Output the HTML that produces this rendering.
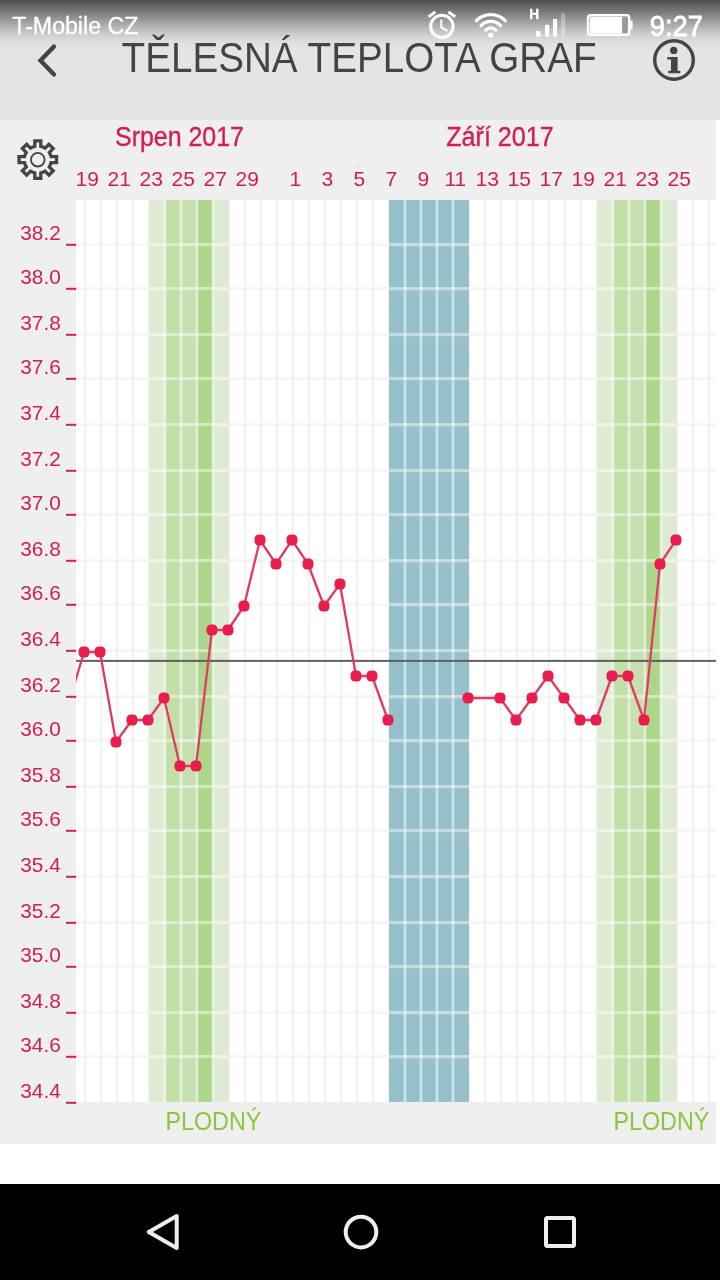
<!DOCTYPE html>
<html lang="cs"><head><meta charset="utf-8"><title>Tělesná teplota graf</title>
<style>html,body{margin:0;padding:0;background:#fff;}body{width:720px;height:1280px;overflow:hidden;position:relative;font-family:"Liberation Sans",sans-serif;}svg{position:absolute;left:0;top:0;display:block;will-change:transform}text{font-family:"Liberation Sans",sans-serif;}</style></head><body>
<svg width="720" height="1280" viewBox="0 0 720 1280">
<defs><linearGradient id="sb" x1="0" y1="0" x2="0" y2="1"><stop offset="0" stop-color="#4c4c4c"/><stop offset="0.36" stop-color="#8f8f8f"/><stop offset="0.58" stop-color="#b8b8b8"/><stop offset="0.73" stop-color="#cfcfcf"/><stop offset="0.83" stop-color="#dadada"/><stop offset="0.94" stop-color="#e2e2e2"/><stop offset="1" stop-color="#e4e4e4"/></linearGradient>
<clipPath id="cc"><rect x="76" y="200" width="640" height="902"/></clipPath></defs>
<rect x="0" y="0" width="720" height="1280" fill="#ffffff"/>
<rect x="0" y="0" width="720" height="120" fill="#e4e4e4"/>
<rect x="0" y="0" width="720" height="48" fill="url(#sb)"/>
<rect x="0" y="120" width="716" height="1024" fill="#efefef"/>
<rect x="76" y="200" width="640" height="902" fill="#ffffff"/>
<g fill="#eeeeee" fill-opacity="0.6">
<rect x="83.5" y="200" width="3" height="902"/>
<rect x="99.5" y="200" width="3" height="902"/>
<rect x="115.5" y="200" width="3" height="902"/>
<rect x="131.5" y="200" width="3" height="902"/>
<rect x="147.5" y="200" width="3" height="902"/>
<rect x="227.5" y="200" width="3" height="902"/>
<rect x="243.5" y="200" width="3" height="902"/>
<rect x="259.5" y="200" width="3" height="902"/>
<rect x="275.5" y="200" width="3" height="902"/>
<rect x="291.5" y="200" width="3" height="902"/>
<rect x="307.5" y="200" width="3" height="902"/>
<rect x="323.5" y="200" width="3" height="902"/>
<rect x="339.5" y="200" width="3" height="902"/>
<rect x="355.5" y="200" width="3" height="902"/>
<rect x="371.5" y="200" width="3" height="902"/>
<rect x="387.5" y="200" width="3" height="902"/>
<rect x="467.5" y="200" width="3" height="902"/>
<rect x="483.5" y="200" width="3" height="902"/>
<rect x="499.5" y="200" width="3" height="902"/>
<rect x="515.5" y="200" width="3" height="902"/>
<rect x="531.5" y="200" width="3" height="902"/>
<rect x="547.5" y="200" width="3" height="902"/>
<rect x="563.5" y="200" width="3" height="902"/>
<rect x="579.5" y="200" width="3" height="902"/>
<rect x="595.5" y="200" width="3" height="902"/>
<rect x="675.5" y="200" width="3" height="902"/>
<rect x="691.5" y="200" width="3" height="902"/>
<rect x="707.5" y="200" width="3" height="902"/>
<rect x="76" y="243.0" width="73" height="3.2" fill-opacity="0.5"/>
<rect x="229" y="243.0" width="160" height="3.2" fill-opacity="0.5"/>
<rect x="469" y="243.0" width="128" height="3.2" fill-opacity="0.5"/>
<rect x="677" y="243.0" width="39" height="3.2" fill-opacity="0.5"/>
<rect x="76" y="287.0" width="73" height="3.2" fill-opacity="0.5"/>
<rect x="229" y="287.0" width="160" height="3.2" fill-opacity="0.5"/>
<rect x="469" y="287.0" width="128" height="3.2" fill-opacity="0.5"/>
<rect x="677" y="287.0" width="39" height="3.2" fill-opacity="0.5"/>
<rect x="76" y="333.0" width="73" height="3.2" fill-opacity="0.5"/>
<rect x="229" y="333.0" width="160" height="3.2" fill-opacity="0.5"/>
<rect x="469" y="333.0" width="128" height="3.2" fill-opacity="0.5"/>
<rect x="677" y="333.0" width="39" height="3.2" fill-opacity="0.5"/>
<rect x="76" y="377.0" width="73" height="3.2" fill-opacity="0.5"/>
<rect x="229" y="377.0" width="160" height="3.2" fill-opacity="0.5"/>
<rect x="469" y="377.0" width="128" height="3.2" fill-opacity="0.5"/>
<rect x="677" y="377.0" width="39" height="3.2" fill-opacity="0.5"/>
<rect x="76" y="423.0" width="73" height="3.2" fill-opacity="0.5"/>
<rect x="229" y="423.0" width="160" height="3.2" fill-opacity="0.5"/>
<rect x="469" y="423.0" width="128" height="3.2" fill-opacity="0.5"/>
<rect x="677" y="423.0" width="39" height="3.2" fill-opacity="0.5"/>
<rect x="76" y="469.0" width="73" height="3.2" fill-opacity="0.5"/>
<rect x="229" y="469.0" width="160" height="3.2" fill-opacity="0.5"/>
<rect x="469" y="469.0" width="128" height="3.2" fill-opacity="0.5"/>
<rect x="677" y="469.0" width="39" height="3.2" fill-opacity="0.5"/>
<rect x="76" y="513.0" width="73" height="3.2" fill-opacity="0.5"/>
<rect x="229" y="513.0" width="160" height="3.2" fill-opacity="0.5"/>
<rect x="469" y="513.0" width="128" height="3.2" fill-opacity="0.5"/>
<rect x="677" y="513.0" width="39" height="3.2" fill-opacity="0.5"/>
<rect x="76" y="559.0" width="73" height="3.2" fill-opacity="0.5"/>
<rect x="229" y="559.0" width="160" height="3.2" fill-opacity="0.5"/>
<rect x="469" y="559.0" width="128" height="3.2" fill-opacity="0.5"/>
<rect x="677" y="559.0" width="39" height="3.2" fill-opacity="0.5"/>
<rect x="76" y="603.0" width="73" height="3.2" fill-opacity="0.5"/>
<rect x="229" y="603.0" width="160" height="3.2" fill-opacity="0.5"/>
<rect x="469" y="603.0" width="128" height="3.2" fill-opacity="0.5"/>
<rect x="677" y="603.0" width="39" height="3.2" fill-opacity="0.5"/>
<rect x="76" y="649.0" width="73" height="3.2" fill-opacity="0.5"/>
<rect x="229" y="649.0" width="160" height="3.2" fill-opacity="0.5"/>
<rect x="469" y="649.0" width="128" height="3.2" fill-opacity="0.5"/>
<rect x="677" y="649.0" width="39" height="3.2" fill-opacity="0.5"/>
<rect x="76" y="695.0" width="73" height="3.2" fill-opacity="0.5"/>
<rect x="229" y="695.0" width="160" height="3.2" fill-opacity="0.5"/>
<rect x="469" y="695.0" width="128" height="3.2" fill-opacity="0.5"/>
<rect x="677" y="695.0" width="39" height="3.2" fill-opacity="0.5"/>
<rect x="76" y="739.0" width="73" height="3.2" fill-opacity="0.5"/>
<rect x="229" y="739.0" width="160" height="3.2" fill-opacity="0.5"/>
<rect x="469" y="739.0" width="128" height="3.2" fill-opacity="0.5"/>
<rect x="677" y="739.0" width="39" height="3.2" fill-opacity="0.5"/>
<rect x="76" y="785.0" width="73" height="3.2" fill-opacity="0.5"/>
<rect x="229" y="785.0" width="160" height="3.2" fill-opacity="0.5"/>
<rect x="469" y="785.0" width="128" height="3.2" fill-opacity="0.5"/>
<rect x="677" y="785.0" width="39" height="3.2" fill-opacity="0.5"/>
<rect x="76" y="829.0" width="73" height="3.2" fill-opacity="0.5"/>
<rect x="229" y="829.0" width="160" height="3.2" fill-opacity="0.5"/>
<rect x="469" y="829.0" width="128" height="3.2" fill-opacity="0.5"/>
<rect x="677" y="829.0" width="39" height="3.2" fill-opacity="0.5"/>
<rect x="76" y="875.0" width="73" height="3.2" fill-opacity="0.5"/>
<rect x="229" y="875.0" width="160" height="3.2" fill-opacity="0.5"/>
<rect x="469" y="875.0" width="128" height="3.2" fill-opacity="0.5"/>
<rect x="677" y="875.0" width="39" height="3.2" fill-opacity="0.5"/>
<rect x="76" y="921.0" width="73" height="3.2" fill-opacity="0.5"/>
<rect x="229" y="921.0" width="160" height="3.2" fill-opacity="0.5"/>
<rect x="469" y="921.0" width="128" height="3.2" fill-opacity="0.5"/>
<rect x="677" y="921.0" width="39" height="3.2" fill-opacity="0.5"/>
<rect x="76" y="965.0" width="73" height="3.2" fill-opacity="0.5"/>
<rect x="229" y="965.0" width="160" height="3.2" fill-opacity="0.5"/>
<rect x="469" y="965.0" width="128" height="3.2" fill-opacity="0.5"/>
<rect x="677" y="965.0" width="39" height="3.2" fill-opacity="0.5"/>
<rect x="76" y="1011.0" width="73" height="3.2" fill-opacity="0.5"/>
<rect x="229" y="1011.0" width="160" height="3.2" fill-opacity="0.5"/>
<rect x="469" y="1011.0" width="128" height="3.2" fill-opacity="0.5"/>
<rect x="677" y="1011.0" width="39" height="3.2" fill-opacity="0.5"/>
<rect x="76" y="1055.0" width="73" height="3.2" fill-opacity="0.5"/>
<rect x="229" y="1055.0" width="160" height="3.2" fill-opacity="0.5"/>
<rect x="469" y="1055.0" width="128" height="3.2" fill-opacity="0.5"/>
<rect x="677" y="1055.0" width="39" height="3.2" fill-opacity="0.5"/>
</g>
<rect x="149" y="200" width="16" height="902" fill="#dcebd2"/>
<rect x="165" y="200" width="16" height="902" fill="#c1dfa6"/>
<rect x="181" y="200" width="16" height="902" fill="#c6e0b0"/>
<rect x="197" y="200" width="16" height="902" fill="#aed68b"/>
<rect x="213" y="200" width="16" height="902" fill="#dcebd2"/>
<rect x="597" y="200" width="16" height="902" fill="#dcebd2"/>
<rect x="613" y="200" width="16" height="902" fill="#c1dfa6"/>
<rect x="629" y="200" width="16" height="902" fill="#c6e0b0"/>
<rect x="645" y="200" width="16" height="902" fill="#aed68b"/>
<rect x="661" y="200" width="16" height="902" fill="#dcebd2"/>
<rect x="389" y="200" width="16" height="902" fill="#96c0cc"/>
<rect x="405" y="200" width="16" height="902" fill="#96c0cc"/>
<rect x="421" y="200" width="16" height="902" fill="#96c0cc"/>
<rect x="437" y="200" width="16" height="902" fill="#96c0cc"/>
<rect x="453" y="200" width="16" height="902" fill="#96c0cc"/>
<g fill="#ffffff">
<rect x="163.6" y="200" width="2.8" height="902" fill-opacity="0.52"/>
<rect x="179.6" y="200" width="2.8" height="902" fill-opacity="0.52"/>
<rect x="195.6" y="200" width="2.8" height="902" fill-opacity="0.52"/>
<rect x="211.6" y="200" width="2.8" height="902" fill-opacity="0.52"/>
<rect x="149" y="243.0" width="80" height="3.2" fill-opacity="0.45"/>
<rect x="149" y="287.0" width="80" height="3.2" fill-opacity="0.45"/>
<rect x="149" y="333.0" width="80" height="3.2" fill-opacity="0.45"/>
<rect x="149" y="377.0" width="80" height="3.2" fill-opacity="0.45"/>
<rect x="149" y="423.0" width="80" height="3.2" fill-opacity="0.45"/>
<rect x="149" y="469.0" width="80" height="3.2" fill-opacity="0.45"/>
<rect x="149" y="513.0" width="80" height="3.2" fill-opacity="0.45"/>
<rect x="149" y="559.0" width="80" height="3.2" fill-opacity="0.45"/>
<rect x="149" y="603.0" width="80" height="3.2" fill-opacity="0.45"/>
<rect x="149" y="649.0" width="80" height="3.2" fill-opacity="0.45"/>
<rect x="149" y="695.0" width="80" height="3.2" fill-opacity="0.45"/>
<rect x="149" y="739.0" width="80" height="3.2" fill-opacity="0.45"/>
<rect x="149" y="785.0" width="80" height="3.2" fill-opacity="0.45"/>
<rect x="149" y="829.0" width="80" height="3.2" fill-opacity="0.45"/>
<rect x="149" y="875.0" width="80" height="3.2" fill-opacity="0.45"/>
<rect x="149" y="921.0" width="80" height="3.2" fill-opacity="0.45"/>
<rect x="149" y="965.0" width="80" height="3.2" fill-opacity="0.45"/>
<rect x="149" y="1011.0" width="80" height="3.2" fill-opacity="0.45"/>
<rect x="149" y="1055.0" width="80" height="3.2" fill-opacity="0.45"/>
<rect x="403.6" y="200" width="2.8" height="902" fill-opacity="0.52"/>
<rect x="419.6" y="200" width="2.8" height="902" fill-opacity="0.52"/>
<rect x="435.6" y="200" width="2.8" height="902" fill-opacity="0.52"/>
<rect x="451.6" y="200" width="2.8" height="902" fill-opacity="0.52"/>
<rect x="389" y="243.0" width="80" height="3.2" fill-opacity="0.45"/>
<rect x="389" y="287.0" width="80" height="3.2" fill-opacity="0.45"/>
<rect x="389" y="333.0" width="80" height="3.2" fill-opacity="0.45"/>
<rect x="389" y="377.0" width="80" height="3.2" fill-opacity="0.45"/>
<rect x="389" y="423.0" width="80" height="3.2" fill-opacity="0.45"/>
<rect x="389" y="469.0" width="80" height="3.2" fill-opacity="0.45"/>
<rect x="389" y="513.0" width="80" height="3.2" fill-opacity="0.45"/>
<rect x="389" y="559.0" width="80" height="3.2" fill-opacity="0.45"/>
<rect x="389" y="603.0" width="80" height="3.2" fill-opacity="0.45"/>
<rect x="389" y="649.0" width="80" height="3.2" fill-opacity="0.45"/>
<rect x="389" y="695.0" width="80" height="3.2" fill-opacity="0.45"/>
<rect x="389" y="739.0" width="80" height="3.2" fill-opacity="0.45"/>
<rect x="389" y="785.0" width="80" height="3.2" fill-opacity="0.45"/>
<rect x="389" y="829.0" width="80" height="3.2" fill-opacity="0.45"/>
<rect x="389" y="875.0" width="80" height="3.2" fill-opacity="0.45"/>
<rect x="389" y="921.0" width="80" height="3.2" fill-opacity="0.45"/>
<rect x="389" y="965.0" width="80" height="3.2" fill-opacity="0.45"/>
<rect x="389" y="1011.0" width="80" height="3.2" fill-opacity="0.45"/>
<rect x="389" y="1055.0" width="80" height="3.2" fill-opacity="0.45"/>
<rect x="611.6" y="200" width="2.8" height="902" fill-opacity="0.52"/>
<rect x="627.6" y="200" width="2.8" height="902" fill-opacity="0.52"/>
<rect x="643.6" y="200" width="2.8" height="902" fill-opacity="0.52"/>
<rect x="659.6" y="200" width="2.8" height="902" fill-opacity="0.52"/>
<rect x="597" y="243.0" width="80" height="3.2" fill-opacity="0.45"/>
<rect x="597" y="287.0" width="80" height="3.2" fill-opacity="0.45"/>
<rect x="597" y="333.0" width="80" height="3.2" fill-opacity="0.45"/>
<rect x="597" y="377.0" width="80" height="3.2" fill-opacity="0.45"/>
<rect x="597" y="423.0" width="80" height="3.2" fill-opacity="0.45"/>
<rect x="597" y="469.0" width="80" height="3.2" fill-opacity="0.45"/>
<rect x="597" y="513.0" width="80" height="3.2" fill-opacity="0.45"/>
<rect x="597" y="559.0" width="80" height="3.2" fill-opacity="0.45"/>
<rect x="597" y="603.0" width="80" height="3.2" fill-opacity="0.45"/>
<rect x="597" y="649.0" width="80" height="3.2" fill-opacity="0.45"/>
<rect x="597" y="695.0" width="80" height="3.2" fill-opacity="0.45"/>
<rect x="597" y="739.0" width="80" height="3.2" fill-opacity="0.45"/>
<rect x="597" y="785.0" width="80" height="3.2" fill-opacity="0.45"/>
<rect x="597" y="829.0" width="80" height="3.2" fill-opacity="0.45"/>
<rect x="597" y="875.0" width="80" height="3.2" fill-opacity="0.45"/>
<rect x="597" y="921.0" width="80" height="3.2" fill-opacity="0.45"/>
<rect x="597" y="965.0" width="80" height="3.2" fill-opacity="0.45"/>
<rect x="597" y="1011.0" width="80" height="3.2" fill-opacity="0.45"/>
<rect x="597" y="1055.0" width="80" height="3.2" fill-opacity="0.45"/>
</g>
<rect x="66" y="243.8" width="10" height="2" fill="#d41d4f"/>
<text x="20.3" y="240.4" font-size="20.4" fill="#d41d4f" textLength="40.5" lengthAdjust="spacingAndGlyphs">38.2</text>
<rect x="66" y="287.8" width="10" height="2" fill="#d41d4f"/>
<text x="20.3" y="284.4" font-size="20.4" fill="#d41d4f" textLength="40.5" lengthAdjust="spacingAndGlyphs">38.0</text>
<rect x="66" y="333.8" width="10" height="2" fill="#d41d4f"/>
<text x="20.3" y="330.4" font-size="20.4" fill="#d41d4f" textLength="40.5" lengthAdjust="spacingAndGlyphs">37.8</text>
<rect x="66" y="377.8" width="10" height="2" fill="#d41d4f"/>
<text x="20.3" y="374.4" font-size="20.4" fill="#d41d4f" textLength="40.5" lengthAdjust="spacingAndGlyphs">37.6</text>
<rect x="66" y="423.8" width="10" height="2" fill="#d41d4f"/>
<text x="20.3" y="420.4" font-size="20.4" fill="#d41d4f" textLength="40.5" lengthAdjust="spacingAndGlyphs">37.4</text>
<rect x="66" y="469.8" width="10" height="2" fill="#d41d4f"/>
<text x="20.3" y="466.4" font-size="20.4" fill="#d41d4f" textLength="40.5" lengthAdjust="spacingAndGlyphs">37.2</text>
<rect x="66" y="513.8" width="10" height="2" fill="#d41d4f"/>
<text x="20.3" y="510.4" font-size="20.4" fill="#d41d4f" textLength="40.5" lengthAdjust="spacingAndGlyphs">37.0</text>
<rect x="66" y="559.8" width="10" height="2" fill="#d41d4f"/>
<text x="20.3" y="556.4" font-size="20.4" fill="#d41d4f" textLength="40.5" lengthAdjust="spacingAndGlyphs">36.8</text>
<rect x="66" y="603.8" width="10" height="2" fill="#d41d4f"/>
<text x="20.3" y="600.4" font-size="20.4" fill="#d41d4f" textLength="40.5" lengthAdjust="spacingAndGlyphs">36.6</text>
<rect x="66" y="649.8" width="10" height="2" fill="#d41d4f"/>
<text x="20.3" y="646.4" font-size="20.4" fill="#d41d4f" textLength="40.5" lengthAdjust="spacingAndGlyphs">36.4</text>
<rect x="66" y="695.8" width="10" height="2" fill="#d41d4f"/>
<text x="20.3" y="692.4" font-size="20.4" fill="#d41d4f" textLength="40.5" lengthAdjust="spacingAndGlyphs">36.2</text>
<rect x="66" y="739.8" width="10" height="2" fill="#d41d4f"/>
<text x="20.3" y="736.4" font-size="20.4" fill="#d41d4f" textLength="40.5" lengthAdjust="spacingAndGlyphs">36.0</text>
<rect x="66" y="785.8" width="10" height="2" fill="#d41d4f"/>
<text x="20.3" y="782.4" font-size="20.4" fill="#d41d4f" textLength="40.5" lengthAdjust="spacingAndGlyphs">35.8</text>
<rect x="66" y="829.8" width="10" height="2" fill="#d41d4f"/>
<text x="20.3" y="826.4" font-size="20.4" fill="#d41d4f" textLength="40.5" lengthAdjust="spacingAndGlyphs">35.6</text>
<rect x="66" y="875.8" width="10" height="2" fill="#d41d4f"/>
<text x="20.3" y="872.4" font-size="20.4" fill="#d41d4f" textLength="40.5" lengthAdjust="spacingAndGlyphs">35.4</text>
<rect x="66" y="921.8" width="10" height="2" fill="#d41d4f"/>
<text x="20.3" y="918.4" font-size="20.4" fill="#d41d4f" textLength="40.5" lengthAdjust="spacingAndGlyphs">35.2</text>
<rect x="66" y="965.8" width="10" height="2" fill="#d41d4f"/>
<text x="20.3" y="962.4" font-size="20.4" fill="#d41d4f" textLength="40.5" lengthAdjust="spacingAndGlyphs">35.0</text>
<rect x="66" y="1011.8" width="10" height="2" fill="#d41d4f"/>
<text x="20.3" y="1008.4" font-size="20.4" fill="#d41d4f" textLength="40.5" lengthAdjust="spacingAndGlyphs">34.8</text>
<rect x="66" y="1055.8" width="10" height="2" fill="#d41d4f"/>
<text x="20.3" y="1052.4" font-size="20.4" fill="#d41d4f" textLength="40.5" lengthAdjust="spacingAndGlyphs">34.6</text>
<rect x="66" y="1101.8" width="10" height="2" fill="#d41d4f"/>
<text x="20.3" y="1098.4" font-size="20.4" fill="#d41d4f" textLength="40.5" lengthAdjust="spacingAndGlyphs">34.4</text>
<rect x="76" y="659.9" width="640" height="2" fill="#606060"/>
<g clip-path="url(#cc)">
<polyline fill="none" stroke="#e23a62" stroke-width="2.3" stroke-linejoin="round" points="68,706 84,652 100,652 116,742 132,720 148,720 164,698 180,766 196,766 212,630 228,630 244,606 260,540 276,564 292,540 308,564 324,606 340,584 356,676 372,676 388,720"/>
<polyline fill="none" stroke="#e23a62" stroke-width="2.3" stroke-linejoin="round" points="468,698 500,698 516,720 532,698 548,676 564,698 580,720 596,720 612,676 628,676 644,720 660,564 676,540"/>
<rect x="62.5" y="700.5" width="11" height="11" rx="4.6" fill="#e81c4d"/>
<rect x="78.5" y="646.5" width="11" height="11" rx="4.6" fill="#e81c4d"/>
<rect x="94.5" y="646.5" width="11" height="11" rx="4.6" fill="#e81c4d"/>
<rect x="110.5" y="736.5" width="11" height="11" rx="4.6" fill="#e81c4d"/>
<rect x="126.5" y="714.5" width="11" height="11" rx="4.6" fill="#e81c4d"/>
<rect x="142.5" y="714.5" width="11" height="11" rx="4.6" fill="#e81c4d"/>
<rect x="158.5" y="692.5" width="11" height="11" rx="4.6" fill="#e81c4d"/>
<rect x="174.5" y="760.5" width="11" height="11" rx="4.6" fill="#e81c4d"/>
<rect x="190.5" y="760.5" width="11" height="11" rx="4.6" fill="#e81c4d"/>
<rect x="206.5" y="624.5" width="11" height="11" rx="4.6" fill="#e81c4d"/>
<rect x="222.5" y="624.5" width="11" height="11" rx="4.6" fill="#e81c4d"/>
<rect x="238.5" y="600.5" width="11" height="11" rx="4.6" fill="#e81c4d"/>
<rect x="254.5" y="534.5" width="11" height="11" rx="4.6" fill="#e81c4d"/>
<rect x="270.5" y="558.5" width="11" height="11" rx="4.6" fill="#e81c4d"/>
<rect x="286.5" y="534.5" width="11" height="11" rx="4.6" fill="#e81c4d"/>
<rect x="302.5" y="558.5" width="11" height="11" rx="4.6" fill="#e81c4d"/>
<rect x="318.5" y="600.5" width="11" height="11" rx="4.6" fill="#e81c4d"/>
<rect x="334.5" y="578.5" width="11" height="11" rx="4.6" fill="#e81c4d"/>
<rect x="350.5" y="670.5" width="11" height="11" rx="4.6" fill="#e81c4d"/>
<rect x="366.5" y="670.5" width="11" height="11" rx="4.6" fill="#e81c4d"/>
<rect x="382.5" y="714.5" width="11" height="11" rx="4.6" fill="#e81c4d"/>
<rect x="462.5" y="692.5" width="11" height="11" rx="4.6" fill="#e81c4d"/>
<rect x="494.5" y="692.5" width="11" height="11" rx="4.6" fill="#e81c4d"/>
<rect x="510.5" y="714.5" width="11" height="11" rx="4.6" fill="#e81c4d"/>
<rect x="526.5" y="692.5" width="11" height="11" rx="4.6" fill="#e81c4d"/>
<rect x="542.5" y="670.5" width="11" height="11" rx="4.6" fill="#e81c4d"/>
<rect x="558.5" y="692.5" width="11" height="11" rx="4.6" fill="#e81c4d"/>
<rect x="574.5" y="714.5" width="11" height="11" rx="4.6" fill="#e81c4d"/>
<rect x="590.5" y="714.5" width="11" height="11" rx="4.6" fill="#e81c4d"/>
<rect x="606.5" y="670.5" width="11" height="11" rx="4.6" fill="#e81c4d"/>
<rect x="622.5" y="670.5" width="11" height="11" rx="4.6" fill="#e81c4d"/>
<rect x="638.5" y="714.5" width="11" height="11" rx="4.6" fill="#e81c4d"/>
<rect x="654.5" y="558.5" width="11" height="11" rx="4.6" fill="#e81c4d"/>
<rect x="670.5" y="534.5" width="11" height="11" rx="4.6" fill="#e81c4d"/>
</g>
<text x="87.3" y="185.8" font-size="21" fill="#d41d4f" text-anchor="middle">19</text>
<text x="119.3" y="185.8" font-size="21" fill="#d41d4f" text-anchor="middle">21</text>
<text x="151.3" y="185.8" font-size="21" fill="#d41d4f" text-anchor="middle">23</text>
<text x="183.3" y="185.8" font-size="21" fill="#d41d4f" text-anchor="middle">25</text>
<text x="215.3" y="185.8" font-size="21" fill="#d41d4f" text-anchor="middle">27</text>
<text x="247.3" y="185.8" font-size="21" fill="#d41d4f" text-anchor="middle">29</text>
<text x="295.3" y="185.8" font-size="21" fill="#d41d4f" text-anchor="middle">1</text>
<text x="327.3" y="185.8" font-size="21" fill="#d41d4f" text-anchor="middle">3</text>
<text x="359.3" y="185.8" font-size="21" fill="#d41d4f" text-anchor="middle">5</text>
<text x="391.3" y="185.8" font-size="21" fill="#d41d4f" text-anchor="middle">7</text>
<text x="423.3" y="185.8" font-size="21" fill="#d41d4f" text-anchor="middle">9</text>
<text x="455.3" y="185.8" font-size="21" fill="#d41d4f" text-anchor="middle">11</text>
<text x="487.3" y="185.8" font-size="21" fill="#d41d4f" text-anchor="middle">13</text>
<text x="519.3" y="185.8" font-size="21" fill="#d41d4f" text-anchor="middle">15</text>
<text x="551.3" y="185.8" font-size="21" fill="#d41d4f" text-anchor="middle">17</text>
<text x="583.3" y="185.8" font-size="21" fill="#d41d4f" text-anchor="middle">19</text>
<text x="615.3" y="185.8" font-size="21" fill="#d41d4f" text-anchor="middle">21</text>
<text x="647.3" y="185.8" font-size="21" fill="#d41d4f" text-anchor="middle">23</text>
<text x="679.3" y="185.8" font-size="21" fill="#d41d4f" text-anchor="middle">25</text>
<text x="115" y="146.3" font-size="27" fill="#d41d4f" stroke="#d41d4f" stroke-width="0.35" textLength="129" lengthAdjust="spacingAndGlyphs">Srpen 2017</text>
<text x="446.2" y="146.3" font-size="27" fill="#d41d4f" stroke="#d41d4f" stroke-width="0.35" textLength="107.6" lengthAdjust="spacingAndGlyphs">Září 2017</text>
<text x="165.4" y="1129.6" font-size="26.5" fill="#8cc63f" textLength="96" lengthAdjust="spacingAndGlyphs">PLODNÝ</text>
<text x="613.4" y="1129.6" font-size="26.5" fill="#8cc63f" textLength="96" lengthAdjust="spacingAndGlyphs">PLODNÝ</text>
<text x="121.6" y="71.8" font-size="43.3" fill="#444444" textLength="475" lengthAdjust="spacingAndGlyphs">TĚLESNÁ TEPLOTA GRAF</text>
<polyline points="54,46.5 40.5,60.5 54,74.5" fill="none" stroke="#444444" stroke-width="4.4" stroke-linecap="round" stroke-linejoin="miter"/>
<circle cx="674" cy="60" r="19.3" fill="none" stroke="#444444" stroke-width="3.4"/>
<circle cx="673.7" cy="50.4" r="3.7" fill="#444444"/>
<path d="M667.3 57 H677.6 V70.8 H680.3 V73.2 H668.2 V70.8 H671 V59.5 H667.3 Z" fill="#444444"/>
<path d="M34.80 146.44L34.80 140.94L40.80 140.94L40.80 146.44A13.6 13.6 0 0 1 45.06 148.20L48.95 144.31L53.19 148.55L49.30 152.44A13.6 13.6 0 0 1 51.06 156.70L56.56 156.70L56.56 162.70L51.06 162.70A13.6 13.6 0 0 1 49.30 166.96L53.19 170.85L48.95 175.09L45.06 171.20A13.6 13.6 0 0 1 40.80 172.96L40.80 178.46L34.80 178.46L34.80 172.96A13.6 13.6 0 0 1 30.54 171.20L26.65 175.09L22.41 170.85L26.30 166.96A13.6 13.6 0 0 1 24.54 162.70L19.04 162.70L19.04 156.70L24.54 156.70A13.6 13.6 0 0 1 26.30 152.44L22.41 148.55L26.65 144.31L30.54 148.20A13.6 13.6 0 0 1 34.80 146.44Z" fill="none" stroke="#444444" stroke-width="3.3" stroke-linejoin="miter"/>
<circle cx="37.8" cy="159.7" r="6.8" fill="none" stroke="#444444" stroke-width="1.8"/>
<text x="12.3" y="33.6" font-size="24.6" fill="#ffffff" stroke="#ffffff" stroke-width="0.3" textLength="126" lengthAdjust="spacingAndGlyphs">T-Mobile CZ</text>
<text x="649.8" y="35.6" font-size="28.6" fill="#ffffff" stroke="#ffffff" stroke-width="0.8" textLength="53.2" lengthAdjust="spacingAndGlyphs">9:27</text>
<g fill="none" stroke="#ffffff" stroke-linecap="butt">
<circle cx="441.9" cy="26.4" r="11.2" stroke-width="3"/>
<path d="M428.6 16.8 L435.4 11.9 M448.4 11.9 L455.2 16.8" stroke-width="3"/>
<path d="M441.3 19.4 V27.4 L447.4 30.8" stroke-width="2"/>
</g>
<g fill="none" stroke="#ffffff" stroke-width="3.2" stroke-linecap="round">
<path d="M476.20 20.90 A20.3 20.3 0 0 1 505.40 20.90"/>
<path d="M481.02 25.55 A13.6 13.6 0 0 1 500.58 25.55"/>
<path d="M485.69 30.07 A7.1 7.1 0 0 1 495.91 30.07"/>
</g>
<circle cx="490.8" cy="35.0" r="2.6" fill="#ffffff"/>
<text x="529.2" y="19" font-size="14.4" font-weight="bold" fill="#ffffff" stroke="#ffffff" stroke-width="0.3" textLength="9.8" lengthAdjust="spacingAndGlyphs">H</text>
<rect x="536" y="31" width="4.6" height="5.8" rx="0.8" fill="#ffffff"/>
<rect x="545" y="24.8" width="4.3" height="12" rx="0.8" fill="#ffffff"/>
<rect x="553" y="19" width="4.1" height="17.8" rx="0.8" fill="#ffffff"/>
<rect x="561" y="13.2" width="4.2" height="23.6" rx="0.8" fill="#ffffff" fill-opacity="0.3"/>
<rect x="588" y="15.2" width="41.2" height="19.6" rx="2.6" fill="none" stroke="#ffffff" stroke-width="2.4"/>
<rect x="630.2" y="20.6" width="2.4" height="8.8" rx="0.8" fill="#ffffff"/>
<rect x="589.8" y="16.9" width="32.4" height="16.2" fill="#ffffff"/>
<rect x="622.2" y="16.9" width="5.3" height="16.2" fill="#999999"/>
<rect x="0" y="1184" width="720" height="96" fill="#000000"/>
<path d="M176.7 1216 L148.8 1232 L176.7 1248 Z" fill="none" stroke="#eeeeee" stroke-width="4" stroke-linejoin="round"/>
<circle cx="361" cy="1232.1" r="15.3" fill="none" stroke="#eeeeee" stroke-width="4"/>
<rect x="546" y="1218" width="28" height="28" rx="1.5" fill="none" stroke="#eeeeee" stroke-width="4" stroke-linejoin="round"/>
</svg></body></html>
